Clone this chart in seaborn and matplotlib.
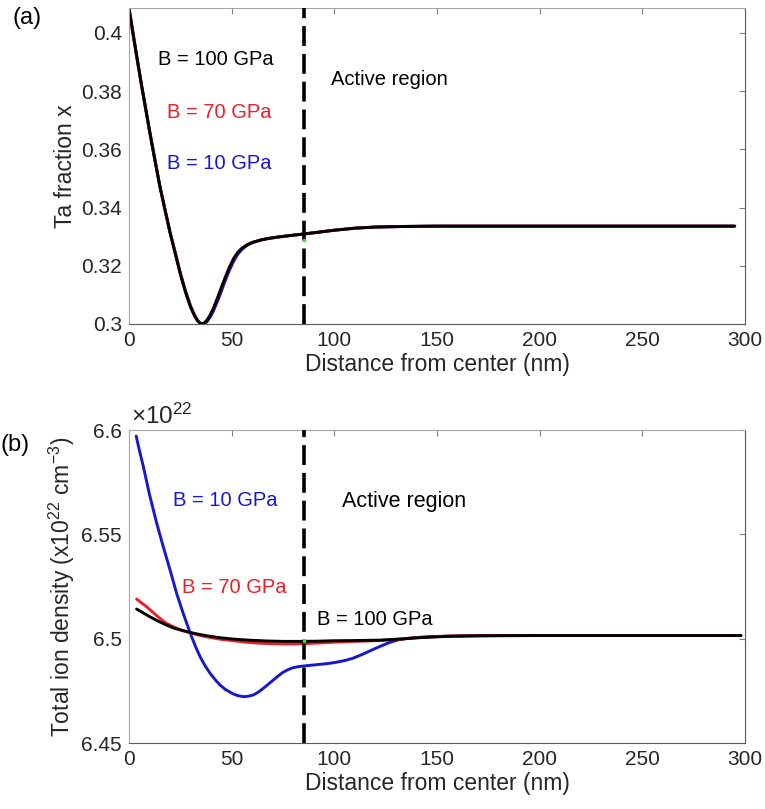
import matplotlib
matplotlib.use('Agg')
import matplotlib.pyplot as plt
import seaborn as sns

# ---------------- data ----------------
# Panel (a): Ta fraction x vs distance (nm)
ta_x = [0, 2, 4, 6, 8, 10, 12.5, 15, 17.5, 20, 22.5, 25, 27.5, 30, 32, 33.5, 35, 36.5, 38, 39.5,
        41, 43, 45, 47, 49, 51, 53, 55, 57.5, 60, 64, 68, 73, 80, 85, 92, 100, 110, 120, 135,
        150, 200, 250, 295]
ta_b100 = [0.4085, 0.3997, 0.3910, 0.3825, 0.3745, 0.3664, 0.3568, 0.3474, 0.3393, 0.3313,
           0.3243, 0.3172, 0.3110, 0.3058, 0.3027, 0.3010, 0.3001, 0.3002, 0.3013, 0.3030,
           0.3052, 0.3087, 0.3125, 0.3162, 0.3196, 0.3225, 0.3246, 0.3260, 0.3272, 0.3280,
           0.3288, 0.3294, 0.3299, 0.3305, 0.3309, 0.3315, 0.3322, 0.3329, 0.3333, 0.3335,
           0.3336, 0.3336, 0.3336, 0.3336]
ta_b70 = [0.4085, 0.3997, 0.3910, 0.3825, 0.3745, 0.3664, 0.3568, 0.3474, 0.3393, 0.3313,
          0.3243, 0.3172, 0.3110, 0.3058, 0.3027, 0.3010, 0.3001, 0.3002, 0.3013, 0.3030,
          0.3052, 0.3087, 0.3125, 0.3162, 0.3196, 0.3225, 0.3246, 0.3260, 0.3272, 0.3280,
          0.3288, 0.3294, 0.3299, 0.3305, 0.3309, 0.3315, 0.3322, 0.3329, 0.3333, 0.3335,
          0.3336, 0.3336, 0.3336, 0.3336]
ta_b10 = [0.4080, 0.3992, 0.3906, 0.3822, 0.3742, 0.3662, 0.3567, 0.3474, 0.3394, 0.3315,
          0.3246, 0.3176, 0.3114, 0.3062, 0.3030, 0.3012, 0.3000, 0.2999, 0.3008, 0.3023,
          0.3043, 0.3076, 0.3113, 0.3151, 0.3186, 0.3216, 0.3240, 0.3256, 0.3270, 0.3279,
          0.3288, 0.3294, 0.3299, 0.3305, 0.3309, 0.3315, 0.3322, 0.3329, 0.3333, 0.3335,
          0.3336, 0.3336, 0.3336, 0.3336]

# Panel (b): total ion density (x1e22 cm^-3)
b10_x = [3.5, 5, 7, 10, 13.5, 16.7, 20, 23.2, 26.4, 28.5, 30.5, 32.5, 34.6, 37, 39.5, 42,
         44.3, 47, 50.8, 53, 55.7, 58, 60.5, 63, 65.4, 68, 70.3, 73, 75.2, 78, 80, 82.5, 85,
         89, 93, 97, 101, 105, 109, 113, 117, 122, 127, 132, 139, 147, 160, 180, 220, 260, 298]
b10_y = [6.5971, 6.5905, 6.5824, 6.5690, 6.5553, 6.5440, 6.5329, 6.5217, 6.5121, 6.5063,
         6.5009, 6.4960, 6.4914, 6.4871, 6.4834, 6.4803, 6.4778, 6.4756, 6.4735, 6.4727,
         6.4722, 6.4724, 6.4730, 6.4744, 6.4762, 6.4783, 6.4802, 6.4824, 6.4840, 6.4854,
         6.4861, 6.4866, 6.4869, 6.4873, 6.4877, 6.4881, 6.4887, 6.4895, 6.4906, 6.4922,
         6.4940, 6.4962, 6.4982, 6.4997, 6.5005, 6.5010, 6.5013, 6.5015, 6.5015, 6.5015, 6.5015]
b70_x = [3.7, 6, 8.6, 12, 15.1, 18, 21.6, 25, 28.1, 33, 37.8, 44, 50.8, 57, 63.8, 70, 76.8,
         85, 92, 99.5, 110, 122, 132, 142, 155, 170, 200, 250, 298]
b70_y = [6.5190, 6.5172, 6.5153, 6.5123, 6.5097, 6.5075, 6.5057, 6.5043, 6.5033, 6.5019,
         6.5009, 6.4998, 6.4990, 6.4983, 6.4978, 6.4976, 6.4974, 6.4976, 6.4979, 6.4983,
         6.4987, 6.4991, 6.4998, 6.5006, 6.5012, 6.5014, 6.5015, 6.5015, 6.5015]
b100_x = [3.7, 7, 10.2, 14, 18.3, 22, 26.4, 32, 37.8, 44, 50.8, 58, 67, 75, 83.3, 92, 99.5,
          110, 122.3, 132, 142, 155, 170, 200, 250, 298]
b100_y = [6.5142, 6.5123, 6.5105, 6.5085, 6.5065, 6.5050, 6.5038, 6.5025, 6.5014, 6.5005,
          6.4998, 6.4993, 6.4989, 6.4987, 6.4987, 6.4988, 6.4990, 6.4991, 6.4993, 6.4998,
          6.5005, 6.5011, 6.5014, 6.5015, 6.5015, 6.5015]

active_x = 85
xticks = [0, 50, 100, 150, 200, 250, 300]
xticklabels = ['0', '50', '100', '150', '200', '250', '300']
a_yticks = [0.30, 0.32, 0.34, 0.36, 0.38, 0.40]
a_yticklabels = ['0.3', '0.32', '0.34', '0.36', '0.38', '0.4']
b_yticks = [6.45, 6.50, 6.55, 6.60]
b_yticklabels = ['6.45', '6.5', '6.55', '6.6']

# ---------------- style ----------------
sns.set_style('white')
plt.rcParams['font.family'] = ['Liberation Sans', 'DejaVu Sans']
plt.rcParams['mathtext.fontset'] = 'custom'
plt.rcParams['mathtext.rm'] = 'Liberation Sans'
plt.rcParams['mathtext.it'] = 'Liberation Sans:italic'
plt.rcParams['mathtext.bf'] = 'Liberation Sans:bold'

BLUE = '#1717d0'
RED = '#e8202a'
BLACK = '#000000'
TXT = '#262626'

W, H = 765, 809
fig = plt.figure(figsize=(W / 100, H / 100), dpi=100)


def rect(l, t, r, b):
    return [l / W, 1 - b / H, (r - l) / W, (b - t) / H]


ax1 = fig.add_axes(rect(129, 8, 745, 324))
ax2 = fig.add_axes(rect(129, 430, 745, 743))


def style(ax):
    for s in ['top', 'left']:
        ax.spines[s].set_color('#a6a6a6')
    for s in ['bottom', 'right']:
        ax.spines[s].set_color('#5a5a5a')
    for s in ax.spines.values():
        s.set_linewidth(0.8)
    ax.tick_params(direction='in', length=4, width=0.8, colors='#808080',
                   labelcolor=TXT, labelsize=15, top=True, right=True, pad=5)


def curve(ax, x, y, c):
    sns.lineplot(x=x, y=y, color=c, linewidth=2.1, ax=ax, estimator=None,
                 sort=False, legend=False)


# ---- panel a ----
curve(ax1, ta_x, ta_b10, BLUE)
curve(ax1, ta_x, ta_b70, RED)
curve(ax1, ta_x, ta_b100, BLACK)
ax1.axvline(active_x, color='black', lw=2.6, dashes=(5.5, 2.2), zorder=5)
ax1.plot([active_x], [0.3287], marker='s', ms=2, color='#44dd44', zorder=6)
ax1.set_xlim(0, 300)
ax1.set_ylim(0.3, 0.4085)
ax1.set_xticks(xticks)
ax1.set_xticklabels(xticklabels)
ax1.set_yticks(a_yticks)
ax1.set_yticklabels(a_yticklabels)
ax1.set_xlabel('Distance from center (nm)', fontsize=16.5, color=TXT, labelpad=2)
ax1.set_ylabel('Ta fraction x', fontsize=16.5, color=TXT, labelpad=3)
style(ax1)
ax1.text(14.1, 0.3907, 'B = 100 GPa', color=BLACK, fontsize=14.5, ha='left', va='center')
ax1.text(18.3, 0.3725, 'B = 70 GPa', color=RED, fontsize=14.5, ha='left', va='center')
ax1.text(18.3, 0.3550, 'B = 10 GPa', color=BLUE, fontsize=14.5, ha='left', va='center')
ax1.text(98.4, 0.3838, 'Active region', color=BLACK, fontsize=14.5, ha='left', va='center')

# ---- panel b ----
curve(ax2, b10_x, b10_y, BLUE)
curve(ax2, b70_x, b70_y, RED)
curve(ax2, b100_x, b100_y, BLACK)
ax2.axvline(active_x, color='black', lw=2.6, dashes=(5.5, 2.2), zorder=5)
ax2.plot([active_x], [6.4987], marker='s', ms=2, color='#44dd44', zorder=6)
ax2.set_xlim(0, 300)
ax2.set_ylim(6.45, 6.60)
ax2.set_xticks(xticks)
ax2.set_xticklabels(xticklabels)
ax2.set_yticks(b_yticks)
ax2.set_yticklabels(b_yticklabels)
ax2.set_xlabel('Distance from center (nm)', fontsize=16.5, color=TXT, labelpad=2)
ax2.set_ylabel('Total ion density (x10$^{22}$ cm$^{-3}$)', fontsize=16.5, color=TXT, labelpad=3)
style(ax2)
ax2.text(0.004, 1.004, '×10$^{22}$', transform=ax2.transAxes, ha='left', va='bottom',
         fontsize=17.5, color=TXT)
ax2.text(21.6, 6.5664, 'B = 10 GPa', color=BLUE, fontsize=14.5, ha='left', va='center')
ax2.text(25.7, 6.5244, 'B = 70 GPa', color=RED, fontsize=14.5, ha='left', va='center')
ax2.text(91.4, 6.5094, 'B = 100 GPa', color=BLACK, fontsize=14.5, ha='left', va='center')
ax2.text(103.5, 6.5656, 'Active region', color=BLACK, fontsize=15.5, ha='left', va='center')

fig.text(13 / W, 1 - 18 / H, '(a)', fontsize=17, ha='left', va='center', color=BLACK)
fig.text(1 / W, 1 - 445 / H, '(b)', fontsize=17, ha='left', va='center', color=BLACK)

fig.savefig('out.png', dpi=100)
